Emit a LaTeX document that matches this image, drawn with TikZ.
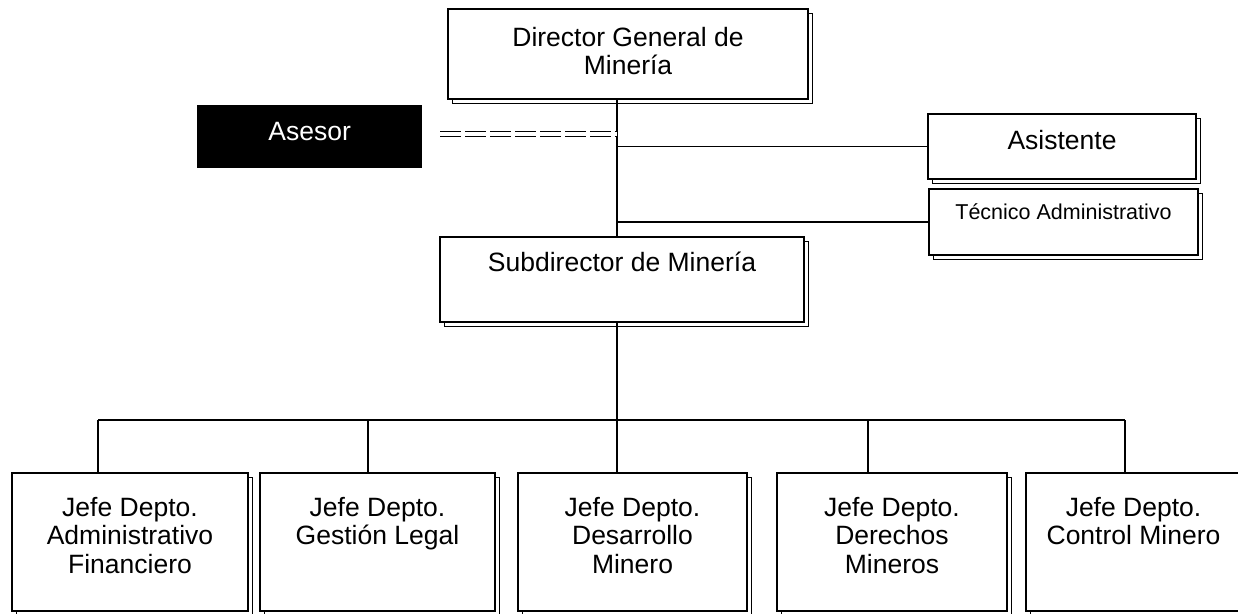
\documentclass[tikz,border=0pt]{standalone}
\usepackage{fontspec}
\setmainfont{Liberation Sans}
\usetikzlibrary{shadows}

% text of a box: width, height, first baseline, lines
\newcommand{\boxtext}[4]{\parbox[c][#2][t]{#1}{\centering\rule{0pt}{#3}#4}}

\tikzset{
  unit/.style={draw, fill=white, line width=2pt, inner sep=0pt, anchor=north west,
    font=\fontsize{26.5}{28.5}\selectfont,
    general shadow={shadow xshift=4.5pt, shadow yshift=-4pt, draw=black, fill=white, line width=1pt}},
  dark/.style={fill=black, text=white, inner sep=0pt, anchor=north west,
    font=\fontsize{26.5}{28.5}\selectfont},
  link/.style={line width=1.8pt},
  adviser/.style={double, double distance=3.5pt, line width=1.1pt, dash pattern=on 21pt off 4pt},
}

\begin{document}
\begin{tikzpicture}[x=1pt,y=-1pt]

		\useasboundingbox (0,0) rectangle (1238,613);

		\coordinate (trunk) at (617,0);
		\coordinate (adv) at (440,134);

		% upper part
		\node[unit] (dir) at (447,8) {\boxtext{360pt}{90pt}{37pt}{Director General de\\Minería}};
		\node[dark] (ase) at (197,105) {\boxtext{225pt}{63pt}{35pt}{Asesor}};
		\node[unit] (asi) at (927,113) {\boxtext{268pt}{65pt}{35pt}{Asistente}};
		\node[unit, font=\fontsize{21.5}{24}\selectfont] (tec) at (928,188) {\boxtext{269pt}{66pt}{30pt}{Técnico Administrativo}};
		\node[unit] (sub) at (439,236) {\boxtext{364pt}{85pt}{34pt}{Subdirector de Minería}};

		% departments
		\node[unit] (j1) at (11,472) {\boxtext{236pt}{138pt}{43pt}{Jefe Depto.\\Administrativo\\Financiero}};
		\node[unit] (j2) at (259,472) {\boxtext{235pt}{138pt}{43pt}{Jefe Depto.\\Gestión Legal}};
		\node[unit] (j3) at (517,472) {\boxtext{229pt}{138pt}{43pt}{Jefe Depto.\\Desarrollo\\Minero}};
		\node[unit] (j4) at (776,472) {\boxtext{230pt}{138pt}{43pt}{Jefe Depto.\\Derechos\\Mineros}};
		\node[unit] (j5) at (1025,472) {\boxtext{215pt}{138pt}{43pt}{Jefe Depto.\\Control Minero}};

		\draw[link] (dir.south -| trunk) -- (sub.north -| trunk);
		\draw[adviser] (adv) -- (adv -| trunk);
		\draw[link] (asi.west -| trunk) -- (asi.west);
		\draw[link] (tec.west -| trunk) -- (tec.west);

		\foreach \n/\x in {1/98, 2/368, 3/617, 4/868, 5/1125}
			\coordinate (d\n) at (\x,420);

		\draw[link] (sub.south -| trunk) -- (d3);
		\draw[link] (d1) -- (d5);
		\foreach \n in {1,...,5}
			\draw[link] (d\n) -- (j\n.north -| d\n);

\end{tikzpicture}
\end{document}
